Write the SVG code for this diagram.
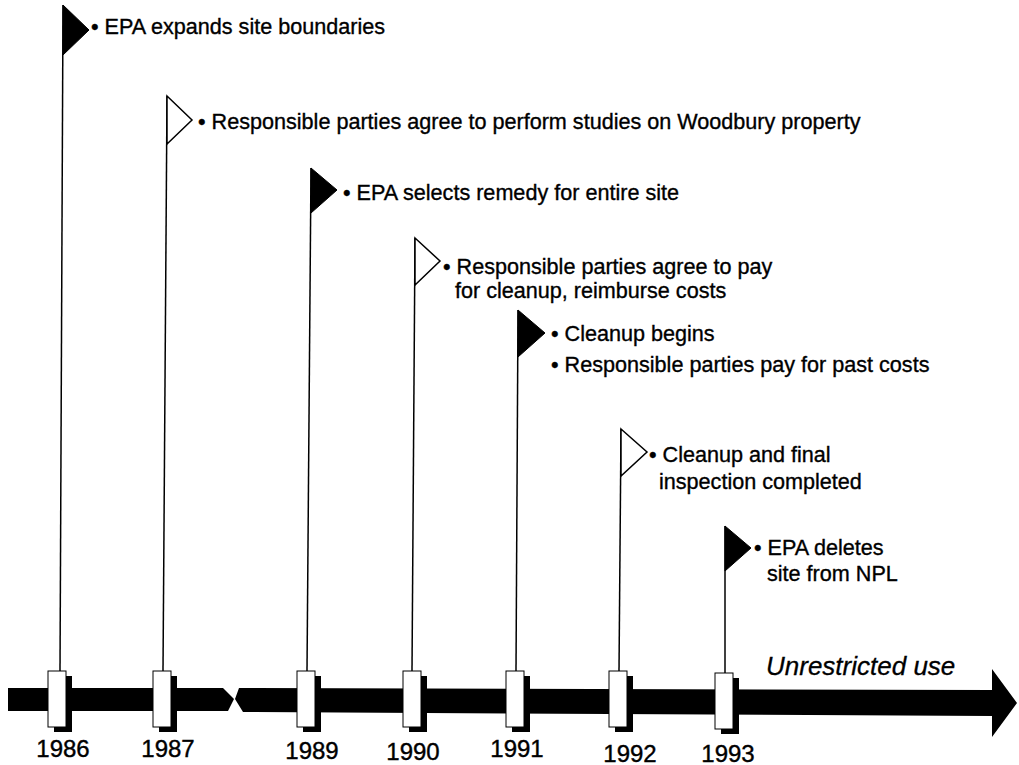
<svg xmlns="http://www.w3.org/2000/svg" width="1019" height="765" viewBox="0 0 1019 765">
<style>
.t{font-family:"Liberation Sans",Arial,sans-serif;font-size:21.6px;fill:#000;stroke:#000;stroke-width:0.35}
.yr{font-family:"Liberation Sans",Arial,sans-serif;font-size:24px;fill:#000;stroke:#000;stroke-width:0.4;text-anchor:middle}
.u{font-family:"Liberation Sans",Arial,sans-serif;font-size:26px;font-style:italic;fill:#000;stroke:#000;stroke-width:0.3}
.pole{stroke:#000;stroke-width:1.5;fill:none}
.fb{fill:#000;stroke:#000;stroke-width:1}
.fw{fill:#fff;stroke:#000;stroke-width:1.5}
.box{fill:#fff;stroke:#000;stroke-width:1}
.sh{fill:#000}
</style>
<rect width="1019" height="765" fill="#fff"/>
<g id="connectors">
<polygon points="8,688 223,688 234,699 228,711 8,711" fill="#000"/>
<polygon points="239,688 992,690 992,669 1017,703 992,737 992,716 243,712 235,699" fill="#000"/>
<line class="pole" x1="63" y1="5" x2="60" y2="671"/>
<line class="pole" x1="167" y1="96" x2="163" y2="671"/>
<line class="pole" x1="311" y1="168" x2="307" y2="671"/>
<line class="pole" x1="415" y1="238" x2="412" y2="671"/>
<line class="pole" x1="518" y1="310" x2="516" y2="671"/>
<line class="pole" x1="621" y1="429" x2="619" y2="671"/>
<line class="pole" x1="725" y1="526" x2="725" y2="673"/>
</g>
<g id="y1986">
<polygon class="fb" points="63,5 89,30 63,55"/>
<rect class="sh" x="54" y="676" width="18" height="56"/>
<rect class="box" x="48" y="671" width="18" height="56"/>
<text class="yr" x="63" y="757">1986</text>
<text class="t" x="91" y="34">• EPA expands site boundaries</text>
</g>
<g id="y1987">
<polygon class="fw" points="167,96 192,120 167,144"/>
<rect class="sh" x="159" y="676" width="18" height="56"/>
<rect class="box" x="153" y="671" width="18" height="56"/>
<text class="yr" x="168" y="757">1987</text>
<text class="t" x="198" y="129">• Responsible parties agree to perform studies on Woodbury property</text>
</g>
<g id="y1989">
<polygon class="fb" points="311,168 337,190 311,213"/>
<rect class="sh" x="303" y="676" width="18" height="56"/>
<rect class="box" x="297" y="671" width="18" height="56"/>
<text class="yr" x="312" y="759">1989</text>
<text class="t" x="343" y="200">• EPA selects remedy for entire site</text>
</g>
<g id="y1990">
<polygon class="fw" points="415,238 440,261 415,285"/>
<rect class="sh" x="409" y="676" width="18" height="56"/>
<rect class="box" x="403" y="671" width="18" height="56"/>
<text class="yr" x="413" y="760">1990</text>
<text class="t" x="443" y="274">• Responsible parties agree to pay</text>
<text class="t" x="455" y="298">for cleanup, reimburse costs</text>
</g>
<g id="y1991">
<polygon class="fb" points="518,310 545,333 518,357"/>
<rect class="sh" x="512" y="676" width="18" height="56"/>
<rect class="box" x="506" y="671" width="18" height="56"/>
<text class="yr" x="517" y="757">1991</text>
<text class="t" x="551" y="341">• Cleanup begins</text>
<text class="t" x="551" y="372">• Responsible parties pay for past costs</text>
</g>
<g id="y1992">
<polygon class="fw" points="621,429 647,452 621,476"/>
<rect class="sh" x="615" y="676" width="18" height="56"/>
<rect class="box" x="609" y="671" width="18" height="56"/>
<text class="yr" x="630" y="762">1992</text>
<text class="t" x="649" y="462">• Cleanup and final</text>
<text class="t" x="659" y="489">inspection completed</text>
</g>
<g id="y1993">
<polygon class="fb" points="725,526 751,548 725,571"/>
<rect class="sh" x="721" y="678" width="18" height="56"/>
<rect class="box" x="715" y="673" width="18" height="56"/>
<text class="yr" x="728" y="762">1993</text>
<text class="t" x="754" y="555">• EPA deletes</text>
<text class="t" x="767" y="581">site from NPL</text>
<text class="u" x="766" y="675">Unrestricted use</text>
</g>
</svg>
